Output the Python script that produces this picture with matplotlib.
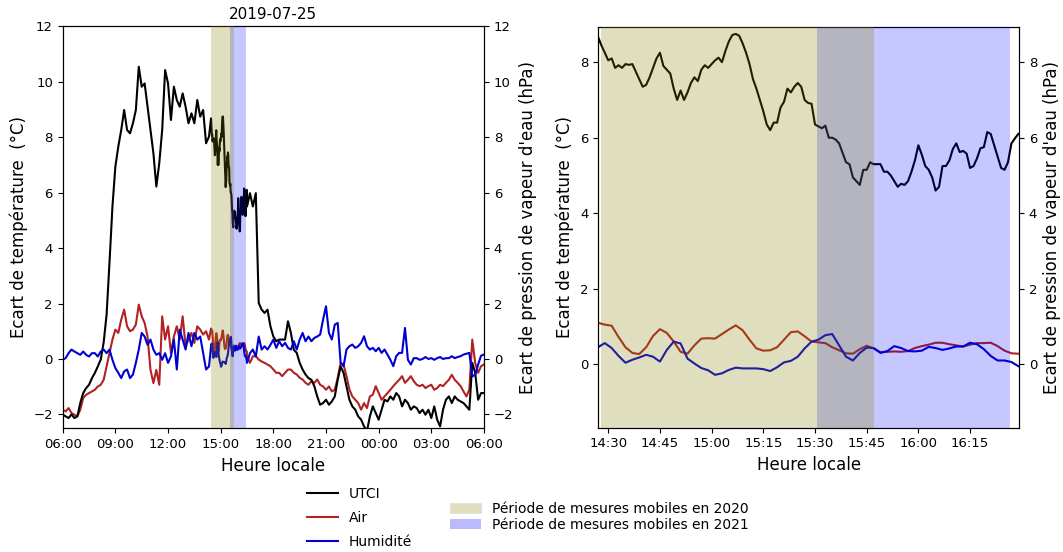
import matplotlib
matplotlib.use("Agg")
import matplotlib.pyplot as plt
import matplotlib.dates as mdates
from matplotlib.lines import Line2D
from matplotlib.patches import Patch
import pandas as pd

# ---------------- data ----------------
day = "2019-07-25"
title = "2019-07-25"

# 10-min values 06:00 -> 14:20
utci_morning = [-2.0, -2.07, -2.13, -2.0, -2.13, -2.07,
                -1.59, -1.23, -1.05, -0.93, -0.69, -0.5,
                -0.27, -0.02, 0.6, 1.6, 3.5, 5.5,
                6.94, 7.66, 8.26, 8.98, 8.26, 8.14,
                8.5, 8.98, 10.54, 9.82, 9.94, 9.1,
                8.26, 7.42, 6.22, 7.06, 8.26, 10.42,
                9.94, 8.62, 9.82, 9.34, 9.1, 9.58,
                9.1, 8.5, 8.86, 8.5, 9.34, 8.74,
                8.98, 7.78, 8.02]
air_morning = [-1.83, -1.89, -1.77, -1.95, -2.01, -2.07,
               -1.83, -1.41, -1.29, -1.23, -1.17, -1.11,
               -0.99, -0.93, -0.75, -0.27, 0.21, 0.7,
               1.06, 0.94, 1.42, 1.78, 1.18, 1.0,
               1.06, 1.24, 1.96, 1.54, 1.3, 0.81,
               -0.39, -0.87, -0.39, -0.93, 1.54, 0.7,
               1.18, 0.21, 0.81, 1.18, 0.7, 1.54,
               0.46, 0.7, 0.94, 0.58, 1.18, 1.06,
               0.88, 1.0, 0.7]
hum_morning = [-0.03, 0.03, 0.21, 0.34, 0.27, 0.21,
               0.15, 0.27, 0.15, 0.09, 0.21, 0.21,
               0.09, 0.27, 0.34, 0.21, 0.34, -0.03,
               -0.33, -0.5, -0.69, -0.45, -0.38, -0.69,
               -0.56, -0.14, 0.34, 0.94, 0.81, 0.51,
               0.7, 0.34, 0.15, 0.21, -0.03, 0.21,
               -0.14, 0.09, 0.7, -0.38, 1.06, 0.7,
               0.34, 0.94, 0.46, 0.94, 0.7, 0.81,
               0.21, -0.38, -0.27]

# 1-min UTCI values 14:27 -> 16:29 (zoomed window)
utci_zoom = [8.68, 8.45, 8.25,
             8.05, 8.1, 7.85, 7.92, 7.85, 7.95, 7.93, 7.95, 7.75, 7.55,
             7.35, 7.4, 7.6, 7.85, 8.1, 8.25, 7.9, 7.8, 7.7, 7.3,
             7.0, 7.25, 7.0, 7.2, 7.45, 7.6, 7.5, 7.8, 7.92, 7.85,
             7.95, 8.05, 8.12, 8.0, 8.3, 8.55, 8.72, 8.75, 8.7, 8.5,
             8.25, 7.95, 7.55, 7.3, 7.0, 6.7, 6.35, 6.2, 6.4, 6.4,
             6.8, 6.95, 7.3, 7.2, 7.35, 7.45, 7.35, 7.0, 6.92, 6.9,
             6.35, 6.3, 6.25, 6.32, 6.0, 6.0, 5.95, 5.85, 5.6, 5.35,
             5.3, 4.95, 4.85, 4.75, 5.15, 5.15, 5.35, 5.3, 5.3, 5.3,
             5.1, 5.1, 5.0, 4.85, 4.7, 4.78, 4.75, 4.85, 5.1, 5.4,
             5.8, 5.55, 5.25, 5.15, 4.95, 4.6, 4.7, 5.25, 5.25, 5.4,
             5.7, 5.85, 5.62, 5.65, 5.58, 5.2, 5.25, 5.45, 5.72, 5.75,
             6.15, 6.1, 5.8, 5.5, 5.2, 5.15, 5.35, 5.85, 5.98, 6.1]
# 2-min values 14:27 -> 16:29 (zoomed window)
air_zoom = [1.1, 1.05, 1.02, 0.72, 0.45, 0.3, 0.27, 0.45, 0.75, 0.93,
            0.83, 0.6, 0.33, 0.28, 0.5, 0.68, 0.69, 0.68, 0.8, 0.92,
            1.03, 0.9, 0.65, 0.42, 0.36, 0.37, 0.45, 0.65, 0.85, 0.87,
            0.74, 0.6, 0.58, 0.56, 0.45, 0.37, 0.29, 0.28, 0.4, 0.49,
            0.42, 0.32, 0.33, 0.34, 0.33, 0.35, 0.43, 0.48, 0.52, 0.57,
            0.57, 0.53, 0.5, 0.47, 0.52, 0.56, 0.56, 0.57, 0.48, 0.36,
            0.29, 0.28]
hum_zoom = [0.45, 0.56, 0.43, 0.22, 0.04, 0.12, 0.18, 0.25, 0.2, 0.07,
            0.38, 0.6, 0.55, 0.15, 0.02, -0.1, -0.16, -0.28, -0.24, -0.15,
            -0.09, -0.11, -0.11, -0.11, -0.13, -0.18, -0.08, 0.05, 0.09, 0.2,
            0.42, 0.6, 0.65, 0.77, 0.8, 0.5, 0.2, 0.1, 0.3, 0.44,
            0.43, 0.3, 0.35, 0.48, 0.43, 0.35, 0.34, 0.36, 0.46, 0.43,
            0.38, 0.42, 0.47, 0.47, 0.57, 0.53, 0.4, 0.22, 0.1, 0.1,
            0.06, -0.05]

# 10-min values 16:30 -> 06:00 next day
utci_evening = [5.5, 5.98, 5.5, 5.98, 2.02, 1.78, 1.66, 1.78, 1.18,
                0.81, 0.64, 0.7, 0.7, 0.7, 1.36, 0.94, 0.33, 0.22,
                -0.14, -0.38, -0.56, -0.69, -0.75, -0.98, -1.35, -1.65,
                -1.59, -1.47, -1.65, -1.53, -1.35, -0.75, -0.27,
                -0.5, -0.98, -1.47, -1.71, -1.83, -2.07, -2.19, -2.43,
                -2.6, -2.07, -1.71, -1.95,
                -2.19, -1.83, -1.47, -1.53, -1.35, -1.47,
                -1.23, -1.35, -1.71, -1.47, -1.59, -1.83,
                -1.71, -1.77, -1.95, -1.83, -2.01, -1.83,
                -2.13, -1.71, -2.19, -2.43, -1.83, -1.47,
                -1.35, -1.59, -1.35, -1.47, -1.53, -1.59,
                -1.71, -1.83, -0.14, -0.5, -1.47, -1.23,
                -1.23]
air_evening = [0.1, -0.14, 0.1, 0.1, -0.02, -0.09, -0.14, -0.2, -0.26,
               -0.38, -0.5, -0.5, -0.62, -0.5, -0.38, -0.38, -0.5, -0.56,
               -0.68, -0.74, -0.86, -0.93, -0.8, -0.86, -0.74, -0.93,
               -0.99, -1.11, -0.99, -1.17, -1.11, -0.68, -0.14,
               -0.2, -0.62, -1.1, -1.35, -1.47, -1.59, -1.83, -1.59,
               -1.77, -1.35, -1.29, -0.98,
               -1.23, -1.47, -1.35, -1.23, -1.11, -0.98,
               -0.86, -0.75, -0.62, -0.86, -0.75, -0.62,
               -0.8, -0.93, -0.98, -0.93, -1.05, -0.98,
               -0.93, -1.11, -1.05, -0.93, -0.98, -0.86,
               -0.75, -0.57, -0.75, -0.86, -0.98, -1.17,
               -1.35, -1.1, 0.7, -0.15, -0.5, -0.26,
               -0.2]
hum_evening = [-0.14, 0.21, 0.34, 0.09, 0.81, 0.34, 0.46, 0.34, 0.51,
               0.7, 0.4, 0.64, 0.46, 0.58, 0.4, 0.34, 0.64, 0.34,
               0.7, 0.94, 0.64, 0.81, 0.64, 0.76, 0.81, 0.88,
               1.42, 1.9, 0.94, 0.7, 1.24, 1.3, -0.14,
               -0.26, 0.34, 0.46, 0.52, 0.4, 0.46, 0.58, 0.82,
               0.46, 0.34, 0.4, 0.28,
               0.4, 0.22, 0.34, 0.16, -0.03, -0.26,
               0.1, 0.22, 0.22, 1.12, -0.03, -0.2,
               0.03, 0.03, -0.03, 0.0, 0.07, 0.0,
               0.03, -0.03, 0.03, 0.07, 0.0, 0.03,
               0.03, 0.1, 0.03, 0.07, 0.1, 0.16,
               0.19, 0.22, -0.63, -0.57, -0.2, 0.12,
               0.16]

period_2020 = ("2019-07-25 14:27:50", "2019-07-25 15:47:00")
period_2021 = ("2019-07-25 15:30:40", "2019-07-25 16:26:40")
labels = ["UTCI", "Air", "Humidité"]
span_labels = ["Période de mesures mobiles en 2020", "Période de mesures mobiles en 2021"]

# ---------------- build series ----------------
t_morning = pd.date_range(f"{day} 06:00", periods=len(utci_morning), freq="10min")
t_zoom1 = pd.date_range(f"{day} 14:27", periods=len(utci_zoom), freq="1min")
t_zoom2 = pd.date_range(f"{day} 14:27", periods=len(air_zoom), freq="2min")
t_evening = pd.date_range(f"{day} 16:30", periods=len(utci_evening), freq="10min")

t_utci = t_morning.append(t_zoom1).append(t_evening)
v_utci = utci_morning + utci_zoom + utci_evening
t_rb = t_morning.append(t_zoom2).append(t_evening)
v_air = air_morning + air_zoom + air_evening
v_hum = hum_morning + hum_zoom + hum_evening

c_utci, c_air, c_hum = "black", "#b22222", "#0000d0"
c2020, a2020 = "olive", 0.25
c2021, a2021 = "blue", 0.22

plt.rcParams["font.family"] = ["DejaVu Sans"]

fig = plt.figure(figsize=(10.63, 5.52), dpi=100)
axL = fig.add_axes([0.059, 0.2241, 0.3963, 0.7283])
axR = fig.add_axes([0.5628, 0.2252, 0.3958, 0.7264])

def draw(ax, tu, vu, trb, va, vh, lw):
    ax2 = ax.twinx()
    ax.plot(tu, vu, color=c_utci, lw=lw, zorder=3)
    ax.plot(trb, va, color=c_air, lw=lw, zorder=2)
    ax2.plot(trb, vh, color=c_hum, lw=lw, zorder=2)
    ax2.axvspan(pd.Timestamp(period_2021[0]), pd.Timestamp(period_2021[1]),
                color=c2021, alpha=a2021, lw=0, zorder=5)
    ax2.axvspan(pd.Timestamp(period_2020[0]), pd.Timestamp(period_2020[1]),
                color=c2020, alpha=a2020, lw=0, zorder=6)
    ax.set_xlabel("Heure locale", fontsize=12)
    ax.set_ylabel("Ecart de température  (°C)", fontsize=12)
    ax2.set_ylabel("Ecart de pression de vapeur d'eau (hPa)", fontsize=12)
    for a in (ax, ax2):
        a.tick_params(labelsize=9.5)
    return ax2

axL2 = draw(axL, t_utci, v_utci, t_rb, v_air, v_hum, 1.5)
axL.set_xlim(pd.Timestamp(f"{day} 06:00"), pd.Timestamp("2019-07-26 06:00"))
for a in (axL, axL2):
    a.set_ylim(-2.5, 12)
    a.set_yticks([-2, 0, 2, 4, 6, 8, 10, 12])
axL.xaxis.set_major_locator(mdates.HourLocator(byhour=range(0, 24, 3)))
axL.xaxis.set_major_formatter(mdates.DateFormatter("%H:%M"))
axL.set_title(title, fontsize=11, pad=5)

axR2 = draw(axR, t_zoom1, utci_zoom, t_zoom2, air_zoom, hum_zoom, 1.5)
axR.set_xlim(pd.Timestamp(f"{day} 14:27:06"), pd.Timestamp(f"{day} 16:29:12"))
for a in (axR, axR2):
    a.set_ylim(-1.68, 8.94)
    a.set_yticks([0, 2, 4, 6, 8])
axR.xaxis.set_major_locator(mdates.MinuteLocator(byminute=[0, 15, 30, 45]))
axR.xaxis.set_major_formatter(mdates.DateFormatter("%H:%M"))

line_handles = [Line2D([], [], color=c, lw=1.5) for c in (c_utci, c_air, c_hum)]
fig.legend(line_handles, labels, loc="upper left", bbox_to_anchor=(0.277, 0.141),
           bbox_transform=fig.transFigure, frameon=False, fontsize=10,
           handlelength=2.2, labelspacing=0.72)
patch_handles = [Patch(facecolor=c2020, alpha=a2020, edgecolor="#c8c8d8"),
                 Patch(facecolor=c2021, alpha=a2021 + 0.05, edgecolor="none")]
fig.legend(patch_handles, span_labels, loc="upper left", bbox_to_anchor=(0.412, 0.114),
           bbox_transform=fig.transFigure, frameon=False, fontsize=10,
           handlelength=2.2, labelspacing=0.15)

fig.savefig("out.png", dpi=100)
